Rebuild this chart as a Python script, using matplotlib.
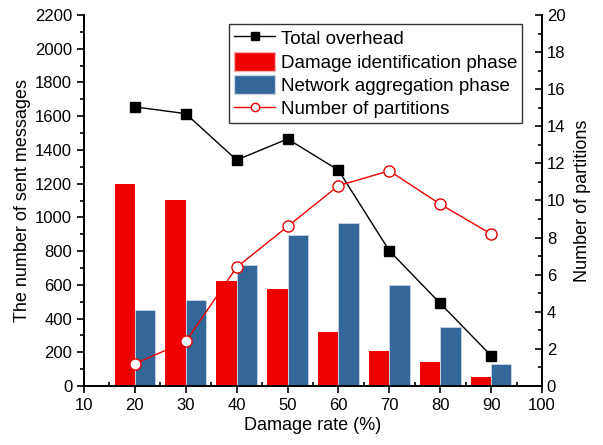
import matplotlib
matplotlib.use("Agg")
import matplotlib.pyplot as plt
from matplotlib.patches import Patch
from matplotlib.lines import Line2D
from matplotlib.ticker import MultipleLocator

plt.rcParams['font.family'] = ['Liberation Sans', 'DejaVu Sans']

damage_rate = [20, 30, 40, 50, 60, 70, 80, 90]
identification_msgs = [1200, 1105, 620, 575, 318, 205, 145, 53]
aggregation_msgs = [450, 508, 720, 893, 965, 600, 352, 130]
total_overhead = [1655, 1615, 1340, 1465, 1280, 802, 490, 180]
partitions = [1.2, 2.4, 6.4, 8.6, 10.8, 11.6, 9.8, 8.2]

RED = '#ee0000'
BLUE = '#336699'
bar_w = 4

fig = plt.figure(figsize=(6.03, 4.45), dpi=100)
ax = fig.add_axes([84 / 603, 59 / 445, 458 / 603, 371 / 445])

ax.bar([x - bar_w / 2 for x in damage_rate], identification_msgs, width=bar_w,
       color=RED, zorder=2)
ax.bar([x + bar_w / 2 for x in damage_rate], aggregation_msgs, width=bar_w,
       color=BLUE, edgecolor='#c9d6e6', linewidth=0.6, zorder=2)
ax.plot(damage_rate, total_overhead, color='black', lw=1.0, marker='s',
        markersize=7, markerfacecolor='black', zorder=3)

ax.set_xlim(10, 100)
ax.set_ylim(0, 2200)
ax.xaxis.set_major_locator(MultipleLocator(10))
ax.xaxis.set_minor_locator(MultipleLocator(5))
ax.yaxis.set_major_locator(MultipleLocator(200))
ax.yaxis.set_minor_locator(MultipleLocator(100))
ax.tick_params(axis='x', which='major', direction='out', length=5, width=1.2, labelsize=12)
ax.tick_params(axis='x', which='minor', direction='in', length=3, width=1.2)
ax.tick_params(axis='y', which='major', direction='out', length=5, width=1.2, labelsize=12)
ax.tick_params(axis='y', which='minor', direction='out', length=3, width=1.2)
ax.spines['top'].set_visible(False)
for s in ('left', 'bottom', 'right'):
    ax.spines[s].set_linewidth(1.3)
ax.set_xlabel('Damage rate (%)', fontsize=13, labelpad=3)
ax.set_ylabel('The number of sent messages', fontsize=13, labelpad=3)

ax2 = ax.twinx()
ax2.plot(damage_rate, partitions, color=RED, lw=1.0, marker='o', markersize=8,
         markerfacecolor='white', markeredgecolor=RED, markeredgewidth=1.0, zorder=4)
ax2.set_ylim(0, 20)
ax2.yaxis.set_major_locator(MultipleLocator(2))
ax2.yaxis.set_minor_locator(MultipleLocator(1))
ax2.tick_params(axis='y', which='major', direction='in', length=5, width=1.2, labelsize=12)
ax2.tick_params(axis='y', which='minor', direction='in', length=3, width=1.2)
ax2.spines['top'].set_visible(False)
for s in ('left', 'bottom', 'right'):
    ax2.spines[s].set_linewidth(1.3)
ax2.set_ylabel('Number of partitions', fontsize=13, labelpad=6)

handles = [
    Line2D([], [], color='black', lw=1.0, marker='s', markersize=6, markerfacecolor='black'),
    Patch(facecolor=RED, edgecolor='#f5b0b0'),
    Patch(facecolor=BLUE, edgecolor='#c9d6e6'),
    Line2D([], [], color=RED, lw=1.0, marker='o', markersize=6,
           markerfacecolor='white', markeredgecolor=RED),
]
labels = ['Total overhead', 'Damage identification phase',
          'Network aggregation phase', 'Number of partitions']
leg = ax2.legend(handles, labels, loc='upper right', bbox_to_anchor=(0.956, 0.976),
                 fontsize=13.5, frameon=True, fancybox=False, edgecolor='black',
                 handlelength=2.2, handleheight=1.15, handletextpad=0.3,
                 labelspacing=0.2, borderpad=0.25, borderaxespad=0)
leg.get_frame().set_linewidth(1.0)

fig.savefig('out.png', dpi=100)
